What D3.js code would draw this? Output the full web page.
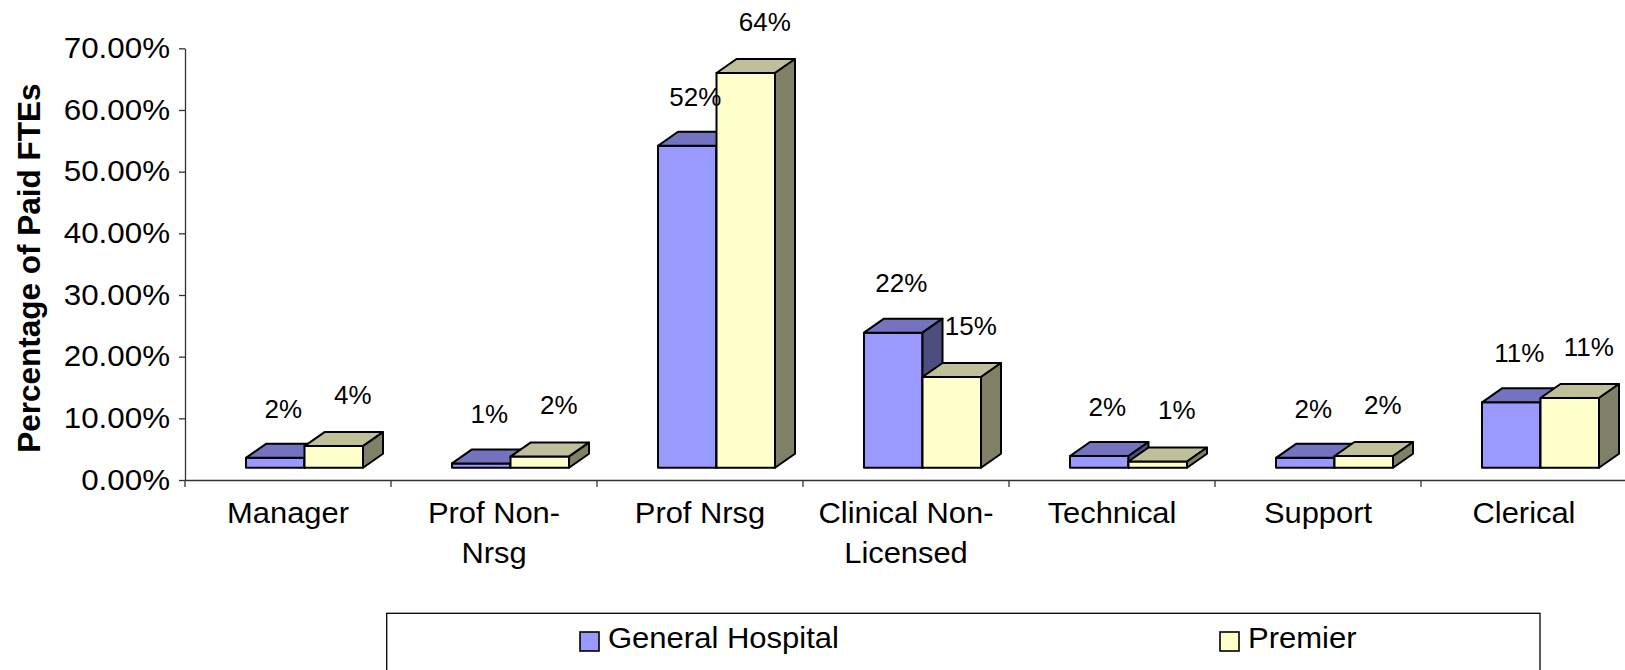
<!DOCTYPE html>
<html>
<head>
<meta charset="utf-8">
<script src="https://cdn.jsdelivr.net/npm/d3@7"></script>
<style>
  html, body { margin: 0; padding: 0; background: #ffffff; }
  svg { display: block; font-family: "Liberation Sans", Arial, sans-serif; }
</style>
</head>
<body>
<script>
// Staff mix: share of paid FTEs by job category
const categories = ["Manager", "Prof Non-\nNrsg", "Prof Nrsg", "Clinical Non-\nLicensed", "Technical", "Support", "Clerical"];
const seriesNames = ["General Hospital", "Premier"];
const generalHospital = [1.6, 0.7, 52.2, 21.9, 1.9, 1.6, 10.6];
const premier = [3.5, 1.8, 64.0, 14.7, 1.0, 1.9, 11.3];
const yTicks = [0, 10, 20, 30, 40, 50, 60, 70];

const seriesValues = [generalHospital, premier];
const frontColors = ["#9999ff", "#ffffcc"];

const W = 1625, H = 670;
const svg = d3.select("body").append("svg").attr("width", W).attr("height", H);

// plot geometry
const plotLeft = 185, plotRight = 1627, plotTop = 48.3, plotBottom = 480;
const groupWidth = 117;                    // width of the two front faces together
const depth = { dx: 20, dy: 14 };          // oblique depth of each column
const floorShift = { dx: 16.5, dy: 12.3 }; // columns sit behind the axis plane
const wide = 1.07;                         // horizontal stretch of the chart text

const x0 = d3.scaleBand().domain(categories).range([plotLeft, plotRight]).padding(0);
const x1 = d3.scaleBand().domain(seriesNames).range([0, groupWidth]).padding(0);
const y = d3.scaleLinear().domain([0, 70]).range([plotBottom, plotTop]);

const shade = (c, k) => {
  const r = d3.rgb(c);
  return d3.rgb(r.r * k, r.g * k, r.b * k).formatHex();
};

// text placed at (x, y) and widened horizontally
const stretchedText = (parent, x, yPos, sx) =>
  parent.append("g").attr("transform", `translate(${x},${yPos}) scale(${sx},1)`).append("text");

// axes
const yAxis = d3.axisLeft(y)
  .tickValues(yTicks)
  .tickSize(6)
  .tickSizeOuter(0)
  .tickFormat(d => d3.format(".2f")(d) + "%");

const gy = svg.append("g").attr("transform", `translate(${plotLeft},0)`).call(yAxis);
gy.select(".domain").attr("stroke", "#333").attr("stroke-width", 1.3);
gy.selectAll(".tick line").attr("stroke", "#333").attr("stroke-width", 1.3);
gy.selectAll(".tick text")
  .attr("x", null)
  .attr("transform", `translate(-15,0) scale(1.08,1)`)
  .attr("fill", "#000")
  .style("font-size", "29px")
  .style("font-family", "'Liberation Sans', Arial, sans-serif");

// x axis: baseline with tick marks on the category boundaries
const xAxis = d3.axisBottom(x0).tickSize(0).tickSizeOuter(0).tickFormat("");
const gx = svg.append("g").attr("transform", `translate(0,${plotBottom})`).call(xAxis);
gx.select(".domain").attr("stroke", "#333").attr("stroke-width", 1.3);

const boundaries = categories.map(c => x0(c)).concat([x0(categories[categories.length - 1]) + x0.step()]);
svg.append("g").selectAll("line")
  .data(boundaries)
  .join("line")
  .attr("x1", d => d).attr("x2", d => d)
  .attr("y1", plotBottom).attr("y2", plotBottom + 7)
  .attr("stroke", "#333").attr("stroke-width", 1.3);

// category labels (wrapped on explicit line breaks)
const catG = svg.append("g");
categories.forEach(c => {
  const t = stretchedText(catG, x0(c) + x0.step() / 2, 522.5, 1.065)
    .attr("text-anchor", "middle")
    .style("font-size", "29px")
    .attr("fill", "#000");
  c.split("\n").forEach((line, i) => {
    t.append("tspan")
      .attr("x", 0)
      .attr("dy", i === 0 ? 0 : 40.7)
      .text(line);
  });
});

// y axis title
svg.append("text")
  .attr("transform", `translate(39.5,${(plotTop + plotBottom) / 2 + 4}) rotate(-90)`)
  .attr("text-anchor", "middle")
  .style("font-size", "31.5px")
  .style("font-weight", "bold")
  .attr("fill", "#000")
  .text("Percentage of Paid FTEs");

// 3-D columns
const baseY = plotBottom - floorShift.dy;
const bars = [];
categories.forEach((c, i) => {
  seriesNames.forEach((s, j) => {
    const v = seriesValues[j][i];
    const xl = x0(c) + (x0.step() - groupWidth) / 2 + floorShift.dx + x1(s);
    const xr = xl + x1.bandwidth();
    const yt = y(v) - floorShift.dy;
    bars.push({ c, s, j, v, xl, xr, yt });
  });
});

const barG = svg.append("g");
bars.forEach(b => {
  const g = barG.append("g")
    .attr("stroke", "#000")
    .attr("stroke-width", 2)
    .attr("stroke-linejoin", "round");
  const col = frontColors[b.j];
  g.append("rect")
    .attr("x", b.xl).attr("y", b.yt)
    .attr("width", b.xr - b.xl).attr("height", baseY - b.yt)
    .attr("fill", col);
  g.append("path")
    .attr("d", `M${b.xl},${b.yt}L${b.xr},${b.yt}L${b.xr + depth.dx},${b.yt - depth.dy}L${b.xl + depth.dx},${b.yt - depth.dy}Z`)
    .attr("fill", shade(col, 0.75));
  g.append("path")
    .attr("d", `M${b.xr},${b.yt}L${b.xr + depth.dx},${b.yt - depth.dy}L${b.xr + depth.dx},${baseY - depth.dy}L${b.xr},${baseY}Z`)
    .attr("fill", shade(col, 0.5));
});

// value labels above each column
const labelShift = [{ dx: 8, dy: 49 }, { dx: 19, dy: 51 }];
const valG = svg.append("g");
bars.forEach(d => {
  stretchedText(valG, (d.xl + d.xr) / 2 + labelShift[d.j].dx, d.yt - labelShift[d.j].dy, 1.04)
    .attr("dy", "0.35em")
    .attr("text-anchor", "middle")
    .style("font-size", "25px")
    .attr("fill", "#000")
    .text(Math.round(d.v) + "%");
});

// legend
const legend = svg.append("g");
legend.append("rect")
  .attr("x", 386.7).attr("y", 613.3)
  .attr("width", 1540 - 386.7).attr("height", 120)
  .attr("fill", "#fff").attr("stroke", "#000").attr("stroke-width", 1.3);
const legendX = [580, 1220];
seriesNames.forEach((s, j) => {
  legend.append("rect")
    .attr("x", legendX[j]).attr("y", 632)
    .attr("width", 19).attr("height", 19)
    .attr("fill", frontColors[j]).attr("stroke", "#000").attr("stroke-width", 1.6);
  stretchedText(legend, legendX[j] + 28, 648, 1.07)
    .style("font-size", "29px")
    .attr("fill", "#000")
    .text(s);
});
</script>
</body>
</html>
